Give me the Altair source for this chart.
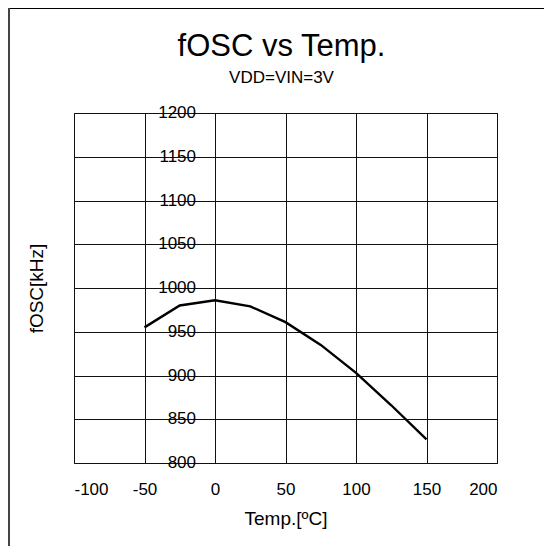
import altair as alt
import pandas as pd

# Data
temps = [-50, -25, 0, 25, 50, 75, 100, 125, 150]
fosc = [955, 980, 986, 979, 961, 935, 903, 866, 827]
x_ticks = [-100, -50, 0, 50, 100, 150, 200]
y_ticks = [800, 850, 900, 950, 1000, 1050, 1100, 1150, 1200]

W, H = 423, 350
PAD = {"left": 66, "top": 105, "right": 47, "bottom": 83}
FONT = "Liberation Sans"

df = pd.DataFrame({"temp": temps, "fosc": fosc})
ydf = pd.DataFrame({"fosc": y_ticks, "temp": [0] * len(y_ticks)})

xscale = alt.Scale(domain=[-100, 200], nice=False, zero=False)
yscale = alt.Scale(domain=[800, 1200], nice=False, zero=False)
x_axis = alt.Axis(values=x_ticks, title="Temp.[ºC]", grid=True,
                  labelExpr="toString(datum.value)",
                  labelPadding=18, titlePadding=12)
y_axis = alt.Axis(values=y_ticks, labels=False, title="fOSC[kHz]",
                  grid=True, titlePadding=28)

line = alt.Chart(df).mark_line(color="black", strokeWidth=2.4).encode(
    x=alt.X("temp:Q", scale=xscale, axis=x_axis),
    y=alt.Y("fosc:Q", scale=yscale, axis=y_axis),
)

labels = alt.Chart(ydf).mark_text(
    align="right", baseline="middle", dx=-19, fontSize=17, font=FONT, color="black"
).encode(
    x=alt.X("temp:Q", scale=xscale, axis=x_axis),
    y=alt.Y("fosc:Q", scale=yscale, axis=y_axis),
    text=alt.Text("fosc:Q", format="d"),
)

one = pd.DataFrame({"a": [0]})
top_border = alt.Chart(one).mark_rule(color="black", strokeWidth=1).encode(
    x=alt.value(-PAD["left"]), x2=alt.value(W + PAD["right"]), y=alt.value(-PAD["top"] + 0.5)
)
left_border = alt.Chart(one).mark_rule(color="#444", strokeWidth=2).encode(
    x=alt.value(-PAD["left"] + 1), y=alt.value(-PAD["top"]), y2=alt.value(H + PAD["bottom"])
)

chart = alt.layer(line, labels, top_border, left_border).properties(
    width=W,
    height=H,
    autosize=alt.AutoSizeParams(type="none"),
    padding=PAD,
    background="white",
    title=alt.Title(
        "fOSC vs Temp.",
        subtitle="VDD=VIN=3V",
        fontSize=31,
        subtitleFontSize=17,
        font=FONT,
        subtitleFont=FONT,
        fontWeight="normal",
        color="black",
        subtitleColor="black",
        anchor="middle",
        frame="group",
        offset=-80,
        subtitlePadding=7,
        dx=-4,
    ),
).configure_view(
    stroke="black", strokeWidth=1
).configure_axis(
    gridColor="#111",
    gridOpacity=1,
    gridWidth=1,
    domain=False,
    ticks=False,
    tickSize=0,
    labelFont=FONT,
    labelFontSize=17,
    labelColor="black",
    titleFont=FONT,
    titleFontSize=19,
    titleFontWeight="normal",
    titleColor="black",
)

chart.save("out.html", embed_options={"renderer": "svg", "actions": False})
